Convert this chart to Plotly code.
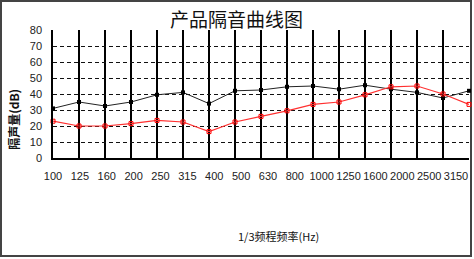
import plotly.graph_objects as go

freq_labels = ["100", "125", "160", "200", "250", "315", "400", "500", "630",
               "800", "1000", "1250", "1600", "2000", "2500", "3150"]
# 17 measured points (index positions along the grid)
black_vals = [31, 35, 32.5, 35, 39.5, 41, 34, 42, 42.5, 44.5, 45, 43, 45.5, 43, 41, 37.5, 42]
red_vals = [23, 20, 20, 21.5, 23.5, 22.5, 16.5, 22.5, 26, 29.5, 33.5, 35, 39.5, 44.5, 45, 40, 33.5]

idx = list(range(len(black_vals)))
label_pos = [i * 15.5 / 15 for i in range(len(freq_labels))]

fig = go.Figure()
fig.add_trace(go.Scatter(x=idx, y=black_vals, mode="lines+markers",
                         line=dict(color="#222222", width=1),
                         marker=dict(symbol="square", size=4, color="#000000"),
                         cliponaxis=False, showlegend=False))
fig.add_trace(go.Scatter(x=idx, y=red_vals, mode="lines+markers",
                         line=dict(color="#ff3030", width=1.2),
                         marker=dict(symbol="square-open", size=4, color="#ff0000"),
                         cliponaxis=False, showlegend=False))

fig.update_layout(
    width=474, height=259,
    margin=dict(l=53, r=5, t=30, b=101),
    plot_bgcolor="white", paper_bgcolor="white",
    font=dict(family="Liberation Sans, Arial", size=11, color="#000"),
    xaxis=dict(range=[0, 16], tickmode="array", tickvals=label_pos, ticktext=freq_labels,
               showgrid=False, zeroline=False, showline=True, linecolor="#000", linewidth=1.5,
               ticks="outside", ticklen=7, tickcolor="rgba(0,0,0,0)",
               tickfont=dict(size=11, color="#222"),
               minor=dict(tickmode="array", tickvals=idx, showgrid=True,
                          gridcolor="#000", gridwidth=1.5, ticks="")),
    yaxis=dict(range=[0, 80], tickmode="array", tickvals=list(range(0, 90, 10)),
               showgrid=True, gridcolor="#111", gridwidth=1, griddash="4px,3px",
               zeroline=False, showline=True, linecolor="#000", linewidth=1.5,
               ticks="outside", ticklen=7, tickcolor="rgba(0,0,0,0)",
               tickfont=dict(size=11, color="#222")),
    annotations=[
        dict(text="产品隔音曲线图", x=0.44, y=1.086, xref="paper", yref="paper",
             showarrow=False, font=dict(family="Noto Sans CJK SC", size=19, color="#111"),
             xanchor="center", yanchor="middle"),
        dict(text="1/3频程频率(Hz)", x=0.541, y=-0.609, xref="paper", yref="paper",
             showarrow=False, font=dict(family="Noto Sans CJK SC", size=11, color="#111"),
             xanchor="center", yanchor="middle"),
        dict(text="<b>隔声量(dB)</b>", x=-0.094, y=0.305, xref="paper", yref="paper",
             showarrow=False, textangle=-90,
             font=dict(family="Noto Sans CJK SC", size=12, color="#111"),
             xanchor="center", yanchor="middle"),
    ],
    shapes=[
        dict(type="rect", xref="paper", yref="paper",
             x0=(1 - 53) / 416, x1=(471 - 53) / 416,
             y0=(158 - 256) / 128, y1=(158 - 1) / 128,
             line=dict(color="#444", width=2), layer="below"),
    ],
)

fig.write_html("out.html")
